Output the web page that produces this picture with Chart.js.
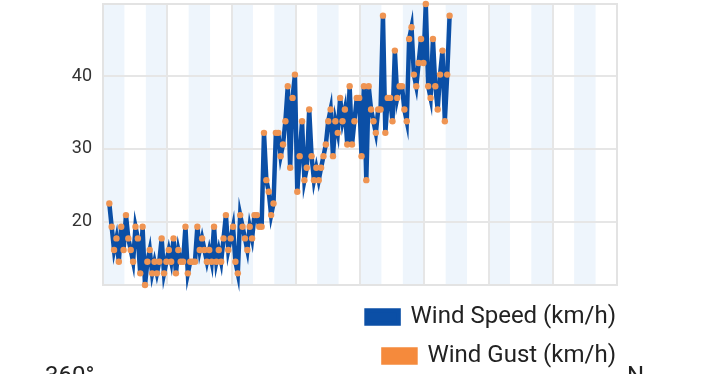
<!DOCTYPE html>
<html lang="en">
<head>
  <meta charset="UTF-8">
  <title>Wind</title>
  <script src="https://cdn.jsdelivr.net/npm/chart.js"></script>
  <style>
    html, body { margin: 0; padding: 0; background: #fff; overflow: hidden; }
    .wrap { position: relative; width: 720px; height: 374px; }
    .below {
      position: absolute;
      top: 363px;
      font-family: Roboto, sans-serif;
      font-size: 24px;
      line-height: 1;
      color: #222;
    }
  </style>
</head>
<body>
  <div class="wrap">
    <canvas id="windChart" width="720" height="374"></canvas>
    <div class="below" style="left:45px">360°</div>
    <div class="below" style="left:627px">N</div>
  </div>
  <script>
    // values in km/h, one every slot
    const windSpeed = [
      22.5, 19.3, 16.1, 17.7, 14.5, 19.3, 16.1, 20.9, 17.7, 16.1,
      14.5, 19.3, 17.7, 12.9, 19.3, 11.3, 14.5, 16.1, 12.9, 14.5,
      12.9, 14.5, 17.7, 12.9, 14.5, 16.1, 14.5, 17.7, 12.9, 16.1,
      14.5, 14.5, 19.3, 12.9, 14.5, 14.5, 14.5, 19.3, 16.1, 17.7,
      16.1, 14.5, 16.1, 14.5, 19.3, 14.5, 16.1, 14.5, 17.7, 20.9,
      16.1, 17.7, 19.3, 14.5, 12.9, 20.9, 19.3, 17.7, 16.1, 19.3,
      17.7, 20.9, 20.9, 19.3, 19.3, 32.2, 25.7, 24.1, 20.9, 22.5,
      32.2, 32.2, 29.0, 30.6, 33.8, 38.6, 27.4, 37.0, 40.2, 24.1,
      29.0, 33.8, 25.7, 27.4, 35.4, 29.0, 25.7, 27.4, 25.7, 27.4,
      29.0, 30.6, 33.8, 35.4, 29.0, 33.8, 32.2, 37.0, 33.8, 35.4,
      30.6, 38.6, 30.6, 33.8, 37.0, 37.0, 29.0, 38.6, 25.7, 38.6,
      35.4, 33.8, 32.2, 35.4, 35.4, 48.3, 32.2, 37.0, 37.0, 33.8,
      43.5, 37.0, 38.6, 38.6, 35.4, 33.8, 45.1, 46.7, 40.2, 38.6,
      41.8, 45.1, 41.8, 49.9, 38.6, 37.0, 45.1, 38.6, 35.4, 40.2,
      43.5, 33.8, 40.2, 48.3
    ];
    // the gust dots sit right on the speed line in the picture
    const windGust = windSpeed;

    const firstSlot = 2.65;   // where the first reading falls on the x axis
    const slotCount = 216;    // full width of the x axis
    const bandSize = 9;       // width of one shaded band
    const gridStep = 27;      // vertical grid every 3 bands
    const yTicks = [20, 30, 40];

    const toPoints = arr => arr.map((v, i) => ({ x: firstSlot + i, y: v }));

    // scales ask for room for edge labels; this chart has none there
    const noEdgePadding = s => {
      s.paddingTop = 0; s.paddingBottom = 0;
      s.paddingLeft = 0; s.paddingRight = 0;
    };

    const bandsPlugin = {
      id: 'bands',
      beforeDraw(chart) {
        const { ctx, chartArea } = chart;
        const x = chart.scales.x;
        ctx.save();
        ctx.fillStyle = '#eef5fc';
        for (let s = 0; s < slotCount; s += bandSize * 2) {
          const l = x.getPixelForValue(s);
          const r = x.getPixelForValue(s + bandSize);
          ctx.fillRect(l, chartArea.top, r - l, chartArea.bottom - chartArea.top);
        }
        ctx.restore();
      },
      beforeDatasetsDraw(chart) {
        const { ctx, chartArea } = chart;
        ctx.save();
        ctx.strokeStyle = '#e3e3e3';
        ctx.lineWidth = 2;
        ctx.strokeRect(chartArea.left, chartArea.top,
          chartArea.right - chartArea.left, chartArea.bottom - chartArea.top);
        ctx.restore();
      },
      afterLayout(chart) {
        // push legend rows flush with the right edge of the plot
        const pad = chart.options.plugins.legend.labels.padding - 1;
        chart.legend.left += pad;
        chart.legend.right += pad;
      }
    };

    const ctx = document.getElementById('windChart').getContext('2d');
    new Chart(ctx, {
      type: 'line',
      data: {
        datasets: [{
          label: 'Wind Speed (km/h)',
          data: toPoints(windSpeed),
          borderColor: '#0b4fa6',
          backgroundColor: '#0b4fa6',
          borderWidth: 4.5,
          pointRadius: 0,
          tension: 0,
          clip: false,
          order: 1
        }, {
          label: 'Wind Gust (km/h)',
          data: toPoints(windGust),
          showLine: false,
          borderColor: '#f58a3c',
          backgroundColor: '#f58a3c',
          borderWidth: 4.5,
          pointBackgroundColor: '#ef9452',
          pointBorderWidth: 0,
          pointRadius: 3.2,
          clip: false,
          order: 0
        }]
      },
      options: {
        responsive: false,
        animation: false,
        layout: { padding: { left: 71, right: 103, top: 4, bottom: 0 } },
        scales: {
          x: {
            type: 'linear',
            min: 0,
            max: slotCount,
            ticks: { display: false, stepSize: gridStep },
            grid: { color: '#e6e6e6', lineWidth: 2, drawTicks: false },
            border: { display: false },
            afterFit: s => { noEdgePadding(s); s.height = 5; }
          },
          y: {
            min: Math.min(...windSpeed),
            max: Math.max(...windSpeed),
            afterBuildTicks: s => { s.ticks = yTicks.map(v => ({ value: v })); },
            afterFit: s => { noEdgePadding(s); s.width = 32; },
            ticks: {
              padding: 11,
              color: '#333',
              font: { family: 'Roboto', size: 18 }
            },
            grid: { color: '#e6e6e6', lineWidth: 2, drawTicks: false },
            border: { display: false }
          }
        },
        plugins: {
          tooltip: { enabled: false },
          legend: {
            position: 'bottom',
            align: 'end',
            fullSize: false,
            maxHeight: 84,
            labels: {
              boxWidth: 32,
              boxHeight: 13,
              padding: 15,
              color: '#222',
              font: { family: 'Roboto', size: 24 },
              sort: (a, b) => a.datasetIndex - b.datasetIndex
            }
          }
        }
      },
      plugins: [bandsPlugin]
    });
  </script>
</body>
</html>
